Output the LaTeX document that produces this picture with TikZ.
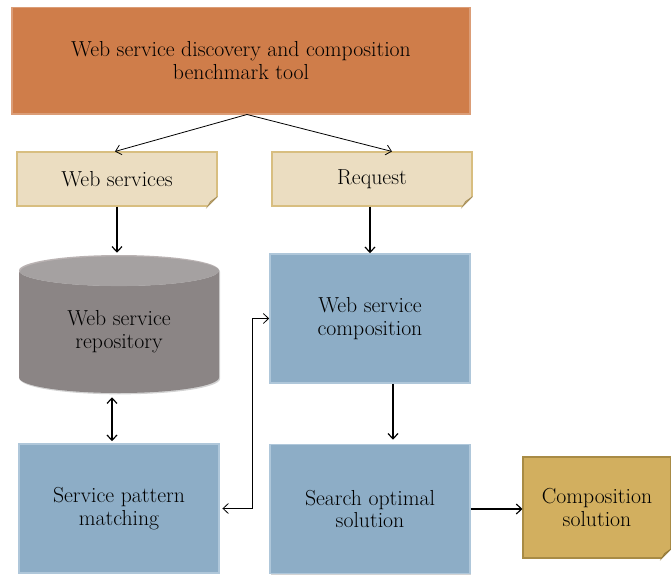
\documentclass[tikz,border=0pt]{standalone}
\usetikzlibrary{positioning,calc,shapes.geometric,shadows,arrows.meta}
\definecolor{toolorange}{HTML}{CF7D4A}
\definecolor{noteFill}{HTML}{EBDDC1}
\definecolor{noteLine}{HTML}{D8BE80}
\definecolor{noteFold}{HTML}{D2B574}
\definecolor{repoBody}{HTML}{918888}
\definecolor{repoTop}{HTML}{BAB3B3}
\definecolor{procFill}{HTML}{8DADC6}
\definecolor{procLine}{HTML}{AFC7DA}
\definecolor{solFill}{HTML}{D2AF5F}
\definecolor{solLine}{HTML}{A88B45}
\definecolor{solFold}{HTML}{B8974A}

\begin{document}
\begin{tikzpicture}[x=0.75pt,y=-0.75pt,
  every node/.style={align=center, inner sep=0pt, font=\fontsize{16.3}{17}\selectfont},
  shade/.style={drop shadow={opacity=0.35, shadow xshift=0.8pt, shadow yshift=-1pt}},
  toolbox/.style={rectangle, fill=toolorange, draw=toolorange!75!white, line width=1pt,
    minimum width=343.5pt, minimum height=80pt, shade},
  notebox/.style={rectangle, fill=noteFill, draw=noteLine, line width=0.8pt,
    minimum width=150pt, minimum height=40.5pt},
  repobox/.style={cylinder, shape border rotate=90, aspect=0.3, anchor=shape center,
    minimum width=150pt, minimum height=103.5pt,
    cylinder uses custom fill, cylinder body fill=repoBody, cylinder end fill=repoTop, shade},
  procbox/.style={rectangle, fill=procFill, draw=procLine, line width=1.2pt,
    minimum width=150pt, minimum height=96.75pt, shade},
  solbox/.style={rectangle, fill=solFill, draw=solLine, line width=0.8pt,
    minimum width=111pt, minimum height=75.75pt},
  >={Straight Barb[length=4pt,width=7.5pt]},
  flow/.style={->, line width=0.9pt},
  thin flow/.style={->, line width=0.6pt}]
  \useasboundingbox (0,0) rectangle (671,575);

  \node[toolbox] (tool) at (241,60.5) {Web service discovery and composition\\benchmark tool};
  \node[notebox] (ws) at (117,179) {Web services};
  \node[notebox] (req) at (372,179) {Request};
  \node[repobox] (repo) at (119,324) {Web service\\repository};
  \node[procbox] (wsc) at (370,318.5) {Web service\\composition};
  \node[procbox] (spm) at (119,508.5) {Service pattern\\matching};
  \node[procbox] (sos) at (370,509) {Search optimal\\solution};
  \node[solbox] (sol) at (597,507.5) {Composition\\solution};

  % folded corners
  \foreach \n/\c in {ws/noteFold, req/noteFold, sol/solFold} {
    \fill[white] ($(\n.south east)+(-11,1)$) -- ($(\n.south east)+(1,1)$) -- ($(\n.south east)+(1,-11)$) -- cycle;
    \filldraw[fill=\c, draw=\c!80!black, line width=0.5pt]
      ($(\n.south east)+(-10,0)$) -- ($(\n.south east)+(0,-10)$) -- ($(\n.south east)+(-7,-5)$) -- cycle;
  }

  \draw[thin flow] ($(tool.south)+(6,0)$) -- ($(ws.north)+(-2,0)$);
  \draw[thin flow] ($(tool.south)+(6,0)$) -- ($(req.north)+(20,0)$);
  \draw[flow] (ws.south) -- ($(ws.south |- repo.north)+(0,-2)$);
  \draw[flow] (req.south -| wsc.north) -- (wsc.north);
  \draw[flow] ($(wsc.south)+(23,0)$) -- ($(sos.north)+(23,-4)$);
  \draw[<->, line width=0.9pt] ($(repo.south)+(-7,4)$) -- ($(spm.north)+(-7,-2)$);
  \draw[<->, line width=0.6pt, shorten <=2pt] (spm.east) -- ++(33,0) |- (wsc.west);
  \draw[flow] (sos.east) -- (sos.east -| sol.west);
\end{tikzpicture}
\end{document}
